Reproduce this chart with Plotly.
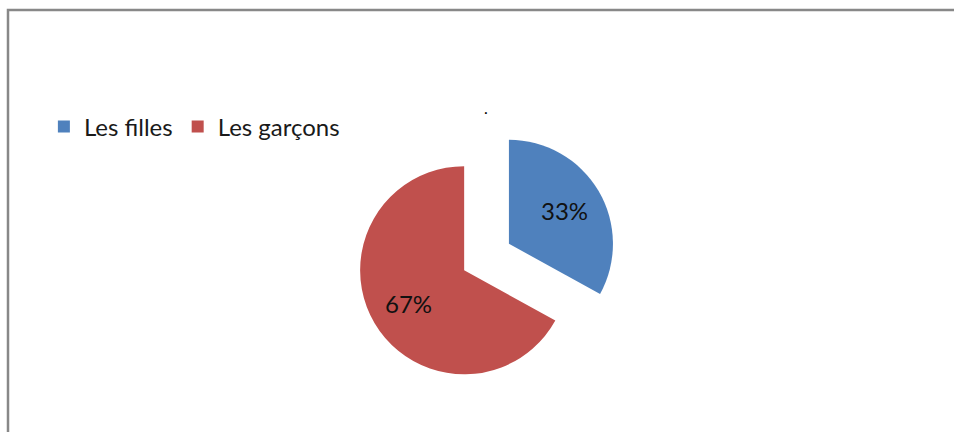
import math
import plotly.graph_objects as go

# Répartition des élèves par sexe
categories = ["Les filles", "Les garçons"]
values = [33, 67]
colors = ["#4F81BD", "#C0504D"]

W, H = 954, 432
PULL = 0.25
DOM_X = [0.353, 0.667]
DOM_Y = [0.104, 0.706]
LABEL_R = 0.62  # position radiale des étiquettes (fraction du rayon)

fig = go.Figure(
    go.Pie(
        labels=categories,
        values=values,
        sort=False,
        direction="clockwise",
        rotation=0,
        pull=[PULL] * len(values),
        marker=dict(colors=colors, line=dict(width=0)),
        textinfo="none",
        domain=dict(x=DOM_X, y=DOM_Y),
        hoverinfo="label+percent",
    )
)

# Étiquettes de pourcentage placées sur la bissectrice de chaque secteur
cx = W * (DOM_X[0] + DOM_X[1]) / 2
cy = H * (1 - (DOM_Y[0] + DOM_Y[1]) / 2)
r = min(W * (DOM_X[1] - DOM_X[0]), H * (DOM_Y[1] - DOM_Y[0])) / (2 + 2 * PULL)
total = sum(values)
cum = 0
for v in values:
    mid = 2 * math.pi * (cum + v / 2) / total
    cum += v
    d = (PULL + LABEL_R) * r
    px = cx + d * math.sin(mid)
    py = cy - d * math.cos(mid)
    fig.add_annotation(
        text=f"{round(100 * v / total)}%",
        xref="paper", yref="paper", x=px / W, y=1 - py / H,
        xanchor="center", yanchor="middle", showarrow=False,
        font=dict(family="Lato", size=24, color="#111111"),
    )

# Cadre de la zone du graphique
fig.add_shape(
    type="rect", xref="paper", yref="paper",
    x0=8 / W, x1=1.02, y0=-0.02, y1=(H - 10) / H,
    line=dict(color="#888888", width=2.5), fillcolor="rgba(0,0,0,0)",
)

# Titre vide (un simple point)
fig.add_annotation(
    text=".", xref="paper", yref="paper", x=486 / W, y=(H - 96) / H,
    showarrow=False, font=dict(family="Lato", size=16, color="#000000"),
)

fig.update_layout(
    width=W, height=H,
    margin=dict(l=0, r=0, t=0, b=0),
    paper_bgcolor="white",
    plot_bgcolor="white",
    showlegend=True,
    legend=dict(
        orientation="h",
        x=0.046, xanchor="left",
        y=(H - 127) / H, yanchor="middle",
        font=dict(family="Lato", size=24, color="#1a1a1a"),
        bgcolor="rgba(0,0,0,0)",
    ),
)

fig.write_html("out.html")
